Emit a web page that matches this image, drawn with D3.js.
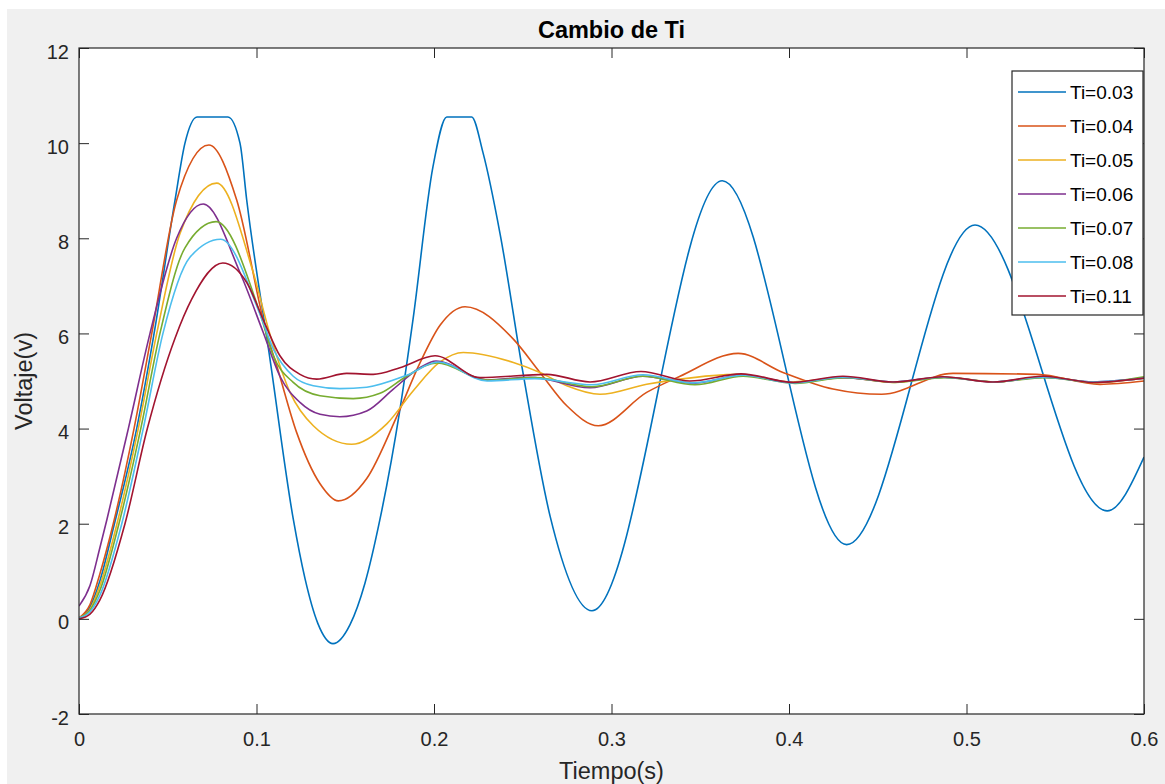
<!DOCTYPE html>
<html><head><meta charset="utf-8">
<script src="https://cdn.jsdelivr.net/npm/d3@7"></script>
<style>
html,body{margin:0;padding:0;background:#fff;}
svg{display:block;font-family:"Liberation Sans",Arial,sans-serif;}
</style></head>
<body>
<svg id="chart" width="1165" height="784"></svg>
<script>
// ---------- data ----------
const title = "Cambio de Ti";
const xLabel = "Tiempo(s)";
const yLabel = "Voltaje(v)";
const xTicks = [0, 0.1, 0.2, 0.3, 0.4, 0.5, 0.6];
const yTicks = [-2, 0, 2, 4, 6, 8, 10, 12];
const xTickLabels = ["0","0.1","0.2","0.3","0.4","0.5","0.6"];
const yTickLabels = ["-2","0","2","4","6","8","10","12"];
const seriesNames = ["Ti=0.03","Ti=0.04","Ti=0.05","Ti=0.06","Ti=0.07","Ti=0.08","Ti=0.11"];
const seriesColors = ["#0072BD","#D95319","#EDB120","#7E2F8E","#77AC30","#4DBEEE","#A2142F"];

const t003 = [0,0.0062,0.0118,0.0193,0.0325,0.0423,0.0541,0.0597,0.0665,0.0839,0.0907,0.0945,0.1076,0.1207,0.1273,0.1346,0.1431,0.1527,0.1611,0.1696,0.1808,0.1882,0.1994,0.2072,0.2212,0.2276,0.2372,0.2501,0.2654,0.2890,0.3624,0.4325,0.5048,0.5793,0.6];
const v003 = [0,0.25,0.8,1.9,4.0,6.0,8.8,10.0,10.55,10.55,10.0,8.8,5.46,2.1,0.85,-0.1,-0.52,-0.12,0.75,2.1,4.4,6.3,9.5,10.55,10.55,9.8,8.1,5.18,2.16,0.17,9.21,1.56,8.28,2.27,3.4];

const t004 = [0,0.0062,0.0118,0.0193,0.0310,0.0410,0.0550,0.0732,0.0888,0.1057,0.1114,0.1226,0.1358,0.1461,0.1621,0.1790,0.1921,0.2034,0.2175,0.2447,0.2597,0.2748,0.2926,0.3198,0.3386,0.3714,0.3966,0.4248,0.4522,0.4924,0.5397,0.5752,0.6];
const v004 = [0.02,0.3,0.95,2.0,4.0,6.0,8.8,9.96,8.81,6.0,5.32,3.92,2.84,2.48,2.95,4.25,5.38,6.17,6.56,5.88,5.18,4.48,4.06,4.76,5.1,5.58,5.18,4.83,4.72,5.16,5.14,4.93,5.0];

const t005 = [0,0.0062,0.0118,0.0214,0.0334,0.0438,0.0569,0.0776,0.0980,0.1076,0.1189,0.1320,0.1536,0.1734,0.1882,0.2034,0.2165,0.2447,0.2597,0.2748,0.2935,0.3198,0.3386,0.3713,0.4006,0.4315,0.4586,0.4879,0.5161,0.5442,0.5724,0.6];
const v005 = [0.02,0.2,0.7,2.0,4.0,6.0,8.1,9.16,7.3,5.98,4.76,4.06,3.67,4.1,4.79,5.4,5.6,5.39,5.18,4.9,4.72,4.93,5.04,5.14,4.98,5.07,4.97,5.08,4.98,5.09,4.97,5.06];

const t006 = [0,0.0062,0.0118,0.0158,0.0278,0.0400,0.0550,0.0700,0.0907,0.1038,0.1132,0.1245,0.1358,0.1470,0.1621,0.1771,0.1921,0.2011,0.2299,0.2541,0.2879,0.3177,0.3459,0.3741,0.4023,0.4304,0.4586,0.4868,0.5149,0.5431,0.5713,0.6];
const v006 = [0.27,0.7,1.5,2.1,4.0,6.0,8.0,8.72,7.28,6.02,5.1,4.55,4.3,4.25,4.37,4.83,5.28,5.42,5.02,5.08,4.86,5.1,4.95,5.12,4.97,5.07,4.98,5.08,4.98,5.08,4.98,5.06];

const t007 = [0,0.0062,0.0118,0.0225,0.0348,0.0456,0.0597,0.0772,0.1020,0.1095,0.1207,0.1358,0.1545,0.1696,0.1846,0.2017,0.2299,0.2569,0.2890,0.3177,0.3470,0.3741,0.4034,0.4315,0.4597,0.4879,0.5161,0.5442,0.5724,0.6];
const v007 = [0.02,0.18,0.6,2.0,4.0,6.0,7.8,8.35,6.42,5.53,4.97,4.69,4.63,4.74,5.1,5.38,5.02,5.07,4.88,5.1,4.92,5.1,4.95,5.07,4.97,5.07,4.98,5.07,4.97,5.09];

const t008 = [0,0.0062,0.0118,0.0241,0.0362,0.0473,0.0625,0.0798,0.1020,0.1095,0.1207,0.1320,0.1470,0.1621,0.1846,0.2023,0.2299,0.2569,0.2890,0.3177,0.3459,0.3741,0.4023,0.4304,0.4586,0.4868,0.5149,0.5431,0.5713,0.6];
const v008 = [0.02,0.15,0.5,2.0,4.0,6.0,7.6,7.98,6.4,5.67,5.1,4.9,4.84,4.87,5.12,5.4,5.0,5.05,4.92,5.13,4.96,5.12,4.96,5.08,4.98,5.08,4.98,5.08,4.98,5.06];

const t011 = [0,0.0062,0.0118,0.0259,0.0385,0.0541,0.0635,0.0810,0.0945,0.1048,0.1132,0.1245,0.1339,0.1508,0.1658,0.1808,0.2006,0.2259,0.2635,0.2879,0.3166,0.3442,0.3730,0.4023,0.4304,0.4586,0.4868,0.5149,0.5431,0.5713,0.6];
const v011 = [0.0,0.1,0.4,2.0,4.0,5.9,6.72,7.48,7.07,6.2,5.53,5.14,5.04,5.16,5.14,5.28,5.53,5.07,5.14,4.98,5.2,5.0,5.15,4.97,5.1,4.98,5.09,4.98,5.1,4.97,5.06];

const seriesT = [t003,t004,t005,t006,t007,t008,t011];
const seriesV = [v003,v004,v005,v006,v007,v008,v011];

// ---------- drawing ----------
const W = 1165, H = 784;
const L = 79, R = 1144, T = 48, B = 714;
const svg = d3.select("#chart");

svg.append("rect").attr("x",7).attr("y",9).attr("width",W-7).attr("height",H-9).attr("fill","#f0f0f0");
svg.append("rect").attr("x",L).attr("y",T).attr("width",R-L).attr("height",B-T).attr("fill","#fff");

const x = d3.scaleLinear().domain([0,0.6]).range([L,R]);
const y = d3.scaleLinear().domain([-2,12]).range([B,T]);

svg.append("defs").append("clipPath").attr("id","clip")
  .append("rect").attr("x",L).attr("y",T).attr("width",R-L).attr("height",B-T);

const line = d3.line().x(d=>x(d[0])).y(d=>y(d[1])).curve(d3.curveMonotoneX);
const plot = svg.append("g").attr("clip-path","url(#clip)");
seriesT.forEach((ts,i)=>{
  const pts = ts.map((t,j)=>[t, seriesV[i][j]]);
  plot.append("path").attr("d",line(pts)).attr("fill","none")
    .attr("stroke",seriesColors[i]).attr("stroke-width",1.6).attr("stroke-linejoin","round");
});

const axisColor = "#262626";
function styleAxis(g){
  g.select(".domain").remove();
  g.selectAll("line").attr("stroke",axisColor).attr("stroke-width",1);
  g.selectAll("text").attr("fill",axisColor).style("font-size","20px").style("font-family","'Liberation Sans',Arial,sans-serif");
}
svg.append("g").attr("transform",`translate(0,${B})`)
  .call(d3.axisBottom(x).tickValues(xTicks).tickFormat((d,i)=>xTickLabels[i]).tickSize(-10).tickPadding(18))
  .call(styleAxis);
svg.append("g").attr("transform",`translate(0,${T})`)
  .call(d3.axisTop(x).tickValues(xTicks).tickFormat("").tickSize(-10))
  .call(styleAxis);
const gy = svg.append("g").attr("transform",`translate(${L},0)`)
  .call(d3.axisLeft(y).tickValues(yTicks).tickFormat((d,i)=>yTickLabels[i]).tickSize(-10).tickPadding(10))
  .call(styleAxis);
gy.selectAll("text").attr("dy","0.5em");
svg.append("g").attr("transform",`translate(${R},0)`)
  .call(d3.axisRight(y).tickValues(yTicks).tickFormat("").tickSize(-10))
  .call(styleAxis);

svg.append("rect").attr("x",L).attr("y",T).attr("width",R-L).attr("height",B-T)
  .attr("fill","none").attr("stroke",axisColor).attr("stroke-width",1.2);

// title & labels
svg.append("text").attr("x",(L+R)/2).attr("y",38).attr("text-anchor","middle")
  .style("font-size","23.5px").style("font-weight","bold").attr("fill","#000").text(title);
svg.append("text").attr("x",(L+R)/2).attr("y",779).attr("text-anchor","middle")
  .style("font-size","23.5px").attr("fill",axisColor).text(xLabel);
svg.append("text").attr("transform",`translate(32,${(T+B)/2}) rotate(-90)`).attr("text-anchor","middle")
  .style("font-size","23.5px").attr("fill",axisColor).text(yLabel);

// legend
const lg = svg.append("g");
lg.append("rect").attr("x",1012).attr("y",71).attr("width",131).attr("height",244)
  .attr("fill","#fff").attr("stroke",axisColor).attr("stroke-width",1.2);
seriesNames.forEach((n,i)=>{
  const yy = 92 + i*34;
  lg.append("line").attr("x1",1018).attr("x2",1066).attr("y1",yy).attr("y2",yy)
    .attr("stroke",seriesColors[i]).attr("stroke-width",1.6);
  lg.append("text").attr("x",1070).attr("y",yy).attr("dy","0.36em")
    .style("font-size","19px").attr("fill","#000").text(n);
});
</script>
</body></html>
